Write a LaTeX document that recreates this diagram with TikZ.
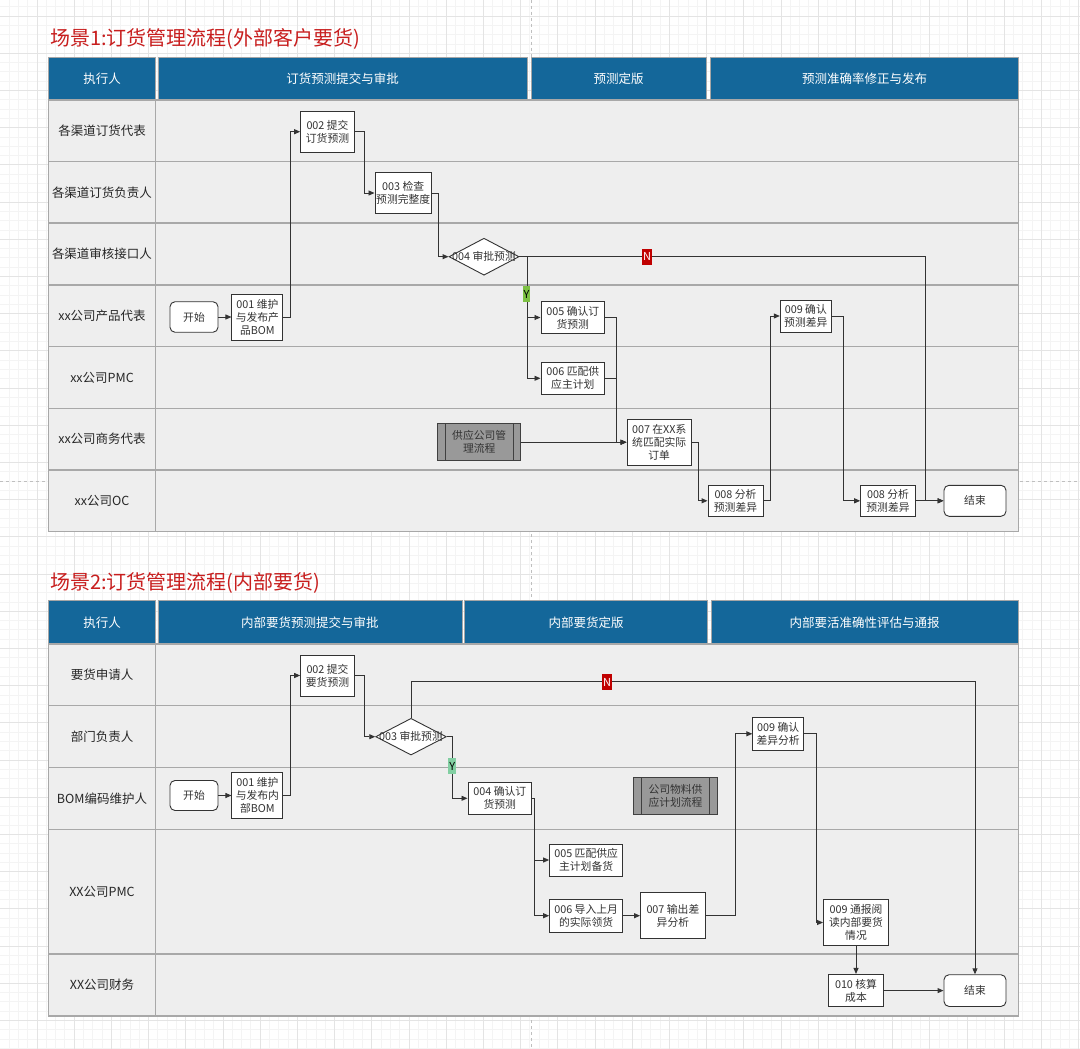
\documentclass[tikz,border=0pt]{standalone}
\usepackage{fontspec}
\setmainfont{Noto Sans CJK SC}
\usetikzlibrary{arrows.meta,shapes.geometric,calc}
\definecolor{hdr}{HTML}{14679A}
\definecolor{lanefill}{HTML}{EEEEEE}
\definecolor{laneline}{HTML}{A8A8A8}
\definecolor{ink}{HTML}{333333}
\definecolor{ttl}{HTML}{C81E1E}
\definecolor{nred}{HTML}{C00000}
\definecolor{ygreen}{HTML}{7DC143}
\definecolor{ymint}{HTML}{82CFA2}
\definecolor{subgray}{HTML}{999999}
\definecolor{gmincol}{HTML}{F4F4F4}
\definecolor{gmajcol}{HTML}{E4E4E4}
\begin{document}
\begin{tikzpicture}[x=1pt,y=-1pt,
  every node/.style={font=\fontsize{10.8}{13}\selectfont, text=ink},
  sz/.style 2 args={minimum width=#1pt, minimum height=#2pt},
  box/.style={rectangle, draw=ink, fill=white, line width=0.9pt, inner sep=0pt, align=center},
  term/.style={box, rounded corners=5pt},
  dia/.style={diamond, draw=ink, fill=white, line width=0.9pt, inner sep=0pt},
  subp/.style={rectangle, draw=black!75, fill=subgray, line width=0.9pt, inner sep=0pt, align=center},
  hdrcell/.style={rectangle, fill=hdr, draw=black!35, line width=0.5pt, inner sep=0pt, text=white, font=\fontsize{12.5}{15}\selectfont},
  lanelab/.style={inner sep=0pt, text=black!85, font=\fontsize{12.5}{15}\selectfont},
  ttlnode/.style={anchor=west, inner sep=0pt, text=ttl, font=\fontsize{20}{24}\selectfont},
  flow/.style={draw=ink, line width=0.9pt, -{Triangle[length=6pt,width=5pt]}},
  nlab/.style={fill=nred, text=white, inner sep=0.8pt, minimum height=16pt, font=\fontsize{11}{13}\selectfont},
  ylab/.style={inner sep=0.8pt, minimum height=16pt, text=black, font=\fontsize{11}{13}\selectfont},
  gmin/.style={draw=gmincol, line width=0.5pt},
  gmaj/.style={draw=gmajcol, line width=0.6pt},
  lanegrid/.style={draw=laneline, line width=1.1pt}
]
\useasboundingbox (0,0) rectangle (1080,1049);
\fill[white] (0,0) rectangle (1080,1049);
% background grid
\foreach \k in {0,...,116} { \draw[gmin] ({9.3*\k-0.4},0) -- ++(0,1049); }
\foreach \k in {0,...,112} { \draw[gmin] (0,{6.6+9.3*\k}) -- ++(1080,0); }
\foreach \k in {0,...,29} { \draw[gmaj] ({37.2*\k-0.4},0) -- ++(0,1049); }
\foreach \k in {0,...,28} { \draw[gmaj] (0,{15.9+37.2*\k}) -- ++(1080,0); }
\draw[draw=black!25, dashed, line width=0.6pt] (531.7,0) -- (531.7,1049);
\draw[draw=black!25, dashed, line width=0.6pt] (0,481.7) -- (1080,481.7);

% ================= Scenario 1 =================
\node[ttlnode] (t1) at (50,39) {场景1:订货管理流程(外部客户要货)};
\node[hdrcell, sz={106.8}{43}] (s1h1) at (102,78.5) {执行人};
\node[hdrcell, sz={369.5}{43}] (s1h2) at (342.55,78.5) {订货预测提交与审批};
\node[hdrcell, sz={175.7}{43}] (s1h3) at (618.65,78.5) {预测定版};
\node[hdrcell, sz={308.1}{43}] (s1h4) at (864.55,78.5) {预测准确率修正与发布};

\fill[lanefill] (48.6,100) rectangle (1018.6,531.7);
\foreach \yy in {161.7,223,285,346.7,408.3,470} { \draw[lanegrid] (48.6,\yy) -- (1018.6,\yy); }
\draw[lanegrid] (48.6,100) rectangle (1018.6,531.7);
\draw[lanegrid, line width=1.6pt] (155.4,100) -- (155.4,531.7);

\node[lanelab] (s1l1) at (102,130.85) {各渠道订货代表};
\node[lanelab] (s1l2) at (102,192.35) {各渠道订货负责人};
\node[lanelab] (s1l3) at (102,254) {各渠道审核接口人};
\node[lanelab] (s1l4) at (102,315.85) {xx公司产品代表};
\node[lanelab] (s1l5) at (102,377.5) {xx公司PMC};
\node[lanelab] (s1l6) at (102,439.15) {xx公司商务代表};
\node[lanelab] (s1l7) at (102,500.85) {xx公司OC};

\node[term, sz={48}{30.5}] (n1start) at (194,317) {开始};
\node[box, sz={51}{46}] (n1001) at (257.4,317) {001 维护\\与发布产\\品BOM};
\node[box, sz={53.7}{41}] (n1002) at (327.5,131.7) {002 提交\\订货预测};
\node[box, sz={56.5}{40.6}] (n1003) at (403.2,193) {003 检查\\预测完整度};
\node[dia, minimum width=70pt, minimum height=37pt, aspect=1.9] (n1004) at (484,256.7) {};
\node[inner sep=0pt] (n1004t) at (n1004.center) {004 审批预测};
\node[box, sz={63.7}{31.6}] (n1005) at (572.8,317.5) {005 确认订\\货预测};
\node[box, sz={63.7}{31.6}] (n1006) at (572.8,378.3) {006 匹配供\\应主计划};
\node[subp, sz={83}{37}] (n1sub) at (479.2,442.2) {供应公司管\\理流程};
\draw[draw=black!75, line width=0.9pt] ($(n1sub.north west)+(8,0)$) -- ($(n1sub.south west)+(8,0)$);
\draw[draw=black!75, line width=0.9pt] ($(n1sub.north east)+(-8,0)$) -- ($(n1sub.south east)+(-8,0)$);
\node[box, sz={64.5}{46}] (n1007) at (659.2,442.2) {007 在XX系\\统匹配实际\\订单};
\node[box, sz={55}{31.7}] (n1008a) at (735.5,500.8) {008 分析\\预测差异};
\node[box, sz={51}{32}] (n1009) at (805.8,316) {009 确认\\预测差异};
\node[box, sz={54.7}{31.7}] (n1008b) at (888,500.8) {008 分析\\预测差异};
\node[term, sz={62}{31}] (n1end) at (975,500.8) {结束};

\draw[flow] (n1start.east) -- (n1001.west);
\draw[flow] (n1001.east) -- ++(6.7,0) |- (n1002.west);
\draw[flow] (n1002.east) -- ++(9.3,0) |- (n1003.west);
\draw[flow] (n1003.east) -- ++(6.2,0) |- (n1004.west);
\draw[flow] (n1004.east) -- ++(8.3,0) |- (n1005.west);
\draw[flow] (n1004.east) -- ++(8.3,0) |- (n1006.west);
\draw[flow] (n1004.east) -- ++(405.6,0) |- (n1end.west);
\draw[flow] (n1005.east) -- ++(11.7,0) |- (n1007.west);
\draw[flow] (n1006.east) -- ++(11.7,0) |- (n1007.west);
\draw[flow] (n1sub.east) -- (n1007.west);
\draw[flow] (n1007.east) -- ++(6.2,0) |- (n1008a.west);
\draw[flow] (n1008a.east) -- ++(7,0) |- (n1009.west);
\draw[flow] (n1009.east) -- ++(11.7,0) |- (n1008b.west);
\draw[flow] (n1008b.east) -- (n1end.west);
\node[nlab] (n1N) at (647,256.7) {N};
\node[ylab, fill=ygreen] (n1Y) at (526.5,294) {Y};

% ================= Scenario 2 =================
\node[ttlnode] (t2) at (50,583) {场景2:订货管理流程(内部要货)};
\node[hdrcell, sz={106.8}{43.3}] (s2h1) at (102,622.35) {执行人};
\node[hdrcell, sz={304}{43.3}] (s2h2) at (309.8,622.35) {内部要货预测提交与审批};
\node[hdrcell, sz={243.2}{43.3}] (s2h3) at (586.1,622.35) {内部要货定版};
\node[hdrcell, sz={307.8}{43.3}] (s2h4) at (864.7,622.35) {内部要活准确性评估与通报};

\fill[lanefill] (48.6,644) rectangle (1018.6,1016);
\foreach \yy in {705.7,767.3,829.3,954} { \draw[lanegrid] (48.6,\yy) -- (1018.6,\yy); }
\draw[lanegrid] (48.6,644) rectangle (1018.6,1016);
\draw[lanegrid, line width=1.6pt] (155.4,644) -- (155.4,1016);

\node[lanelab] (s2l1) at (102,674.85) {要货申请人};
\node[lanelab] (s2l2) at (102,736.5) {部门负责人};
\node[lanelab] (s2l3) at (102,798.3) {BOM编码维护人};
\node[lanelab] (s2l4) at (102,891.65) {XX公司PMC};
\node[lanelab] (s2l5) at (102,985) {XX公司财务};

\node[term, sz={48}{30}] (n2start) at (194,795.5) {开始};
\node[box, sz={51}{46}] (n2001) at (257.4,795.5) {001 维护\\与发布内\\部BOM};
\node[box, sz={53.7}{41}] (n2002) at (327.5,675.5) {002 提交\\要货预测};
\node[dia, minimum width=70.6pt, minimum height=36.7pt, aspect=1.9] (n2003) at (411,736.7) {};
\node[inner sep=0pt] (n2003t) at (n2003.center) {003 审批预测};
\node[box, sz={63.7}{32}] (n2004) at (499.8,798.3) {004 确认订\\货预测};
\node[box, sz={73}{32}] (n2005) at (586.1,860) {005 匹配供应\\主计划备货};
\node[box, sz={73}{32.7}] (n2006) at (586.1,915.7) {006 导入上月\\的实际领货};
\node[box, sz={64.8}{45.6}] (n2007) at (672.9,915.7) {007 输出差\\异分析};
\node[subp, sz={83.6}{36.6}] (n2sub) at (675.5,796) {公司物料供\\应计划流程};
\draw[draw=black!75, line width=0.9pt] ($(n2sub.north west)+(8,0)$) -- ($(n2sub.south west)+(8,0)$);
\draw[draw=black!75, line width=0.9pt] ($(n2sub.north east)+(-8,0)$) -- ($(n2sub.south east)+(-8,0)$);
\node[box, sz={50.6}{32.3}] (n2009a) at (778.1,733.8) {009 确认\\差异分析};
\node[box, sz={65}{46.4}] (n2009b) at (856,922.5) {009 通报阅\\读内部要货\\情况};
\node[box, sz={55}{32.4}] (n2010) at (856,990.6) {010 核算\\成本};
\node[term, sz={62}{31.7}] (n2end) at (975,990.6) {结束};

\draw[flow] (n2start.east) -- (n2001.west);
\draw[flow] (n2001.east) -- ++(6.7,0) |- (n2002.west);
\draw[flow] (n2002.east) -- ++(9.3,0) |- (n2003.west);
\draw[flow] (n2003.north) -- ++(0,-36) -| (n2end.north);
\draw[flow] (n2003.east) -- ++(5.9,0) |- (n2004.west);
\draw[flow] (n2004.east) -- ++(2.8,0) |- (n2005.west);
\draw[flow] (n2004.east) -- ++(2.8,0) |- (n2006.west);
\draw[flow] (n2006.east) -- (n2007.west);
\draw[flow] (n2007.east) -- ++(29.3,0) |- (n2009a.west);
\draw[flow] (n2009a.east) -- ++(12.1,0) |- (n2009b.west);
\draw[flow] (n2009b.south) -- (n2010.north);
\draw[flow] (n2010.east) -- (n2end.west);
\node[nlab] (n2N) at (607,682.3) {N};
\node[ylab, fill=ymint] (n2Y) at (452.2,766) {Y};
\end{tikzpicture}
\end{document}
